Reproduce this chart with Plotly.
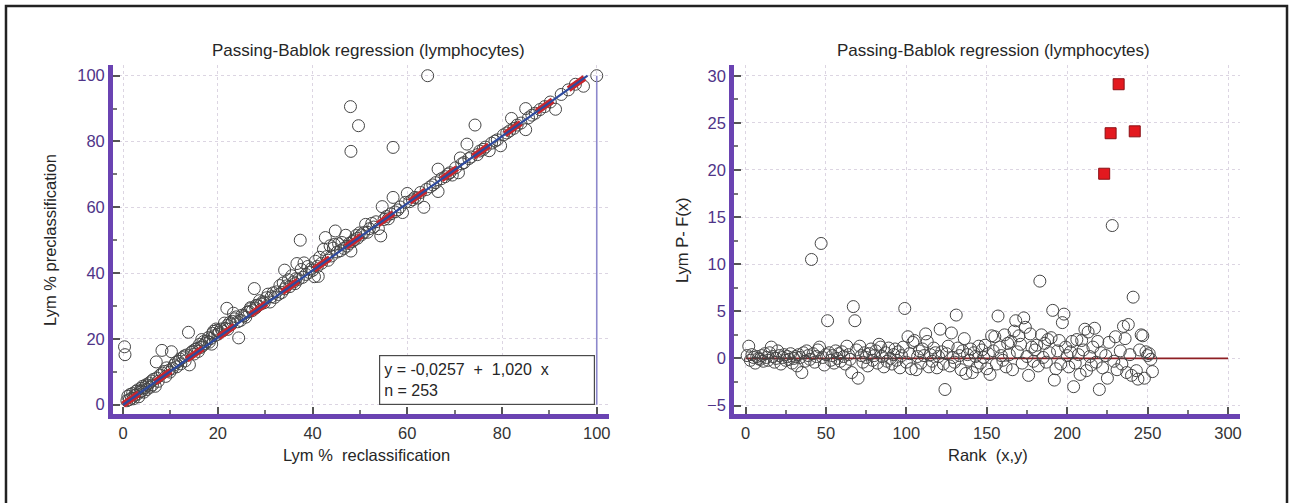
import plotly.graph_objects as go

# ---------------- data: left panel (Lym % reclassification vs preclassification) ----------------
recl_a = [0.3,0.4,0.8,1.0,1.3,1.5,1.8,2.0,2.2,2.5,2.7,3.0,3.1,3.3,3.6,3.8,4.0,4.1,4.4,4.6,
          4.9,5.0,5.2,5.5,5.7,6.0,6.2,6.4,6.8,7.0,7.1,7.4,7.8,8.2,8.3,8.7,9.0,9.2,9.6,9.9]
precl_a = [17.6,15.2,1.2,2.6,1.5,3.1,2.0,3.4,1.8,2.9,4.1,3.2,4.5,2.4,3.9,5.0,4.2,5.6,3.8,5.2,
           6.1,4.6,5.8,6.6,5.3,7.2,6.0,7.7,5.6,13.0,8.1,7.1,9.0,16.5,9.6,10.1,8.6,11.2,10.4,9.9]
recl_b = [10.2,10.4,10.8,11.1,11.3,11.7,12.0,12.2,12.6,12.9,13.1,13.4,13.8,14.0,14.4,14.7,15.0,15.2,15.6,15.9,
          16.1,16.4,16.8,17.0,17.3,17.7,18.0,18.2,18.5,18.9,19.1,19.4,19.8,20.0,20.3,20.7,21.0,21.9,21.6,22.0,
          22.1,22.5,22.8,23.1,23.5,23.9,24.2,24.4,24.8,25.1,25.5,25.9,26.2,26.6,27.0,27.3,27.7,28.0,28.1,28.4,
          28.8,29.1,29.5,29.8,16.6,18.7,19.6,21.4,23.3,26.9]
precl_b = [16.1,11.0,12.1,12.8,11.5,13.2,13.9,12.4,14.3,14.8,13.3,15.1,22.0,12.1,15.9,16.3,15.4,16.8,17.1,16.2,
           18.3,17.4,17.9,19.2,18.6,19.3,20.4,19.0,20.1,21.7,22.3,21.0,22.6,21.4,22.1,23.0,22.4,29.3,23.2,24.1,
           22.9,25.0,24.6,25.3,26.1,26.7,25.2,20.3,25.6,27.2,27.0,26.6,28.1,28.3,29.2,28.6,35.3,29.4,30.2,30.1,
           31.6,30.6,31.3,31.0,19.8,18.4,23.0,24.8,27.8,29.5]
recl_c = [30.3,30.6,31.0,31.3,31.7,32.0,32.4,32.8,33.1,33.5,33.8,34.1,34.5,34.9,35.2,35.6,36.0,36.3,36.7,37.0,
          37.4,37.6,37.9,38.2,38.6,39.0,39.3,39.7,40.0,40.4,40.6,41.0,41.2,41.5,41.9,42.3,42.7,43.0,43.3,43.7,
          44.0,44.4,44.8,45.2,45.5,45.9,46.2,46.6,47.0,47.3,47.7,48.1,48.4,48.8,49.2,49.5,49.9,34.1,36.5,44.6]
precl_c = [32.5,33.6,31.2,32.8,34.0,32.6,34.3,33.5,36.2,34.1,37.0,40.9,36.1,38.0,35.9,39.2,37.3,36.8,42.9,38.1,
           50.0,41.1,38.7,43.1,39.6,42.0,40.2,41.3,40.8,38.9,43.6,42.0,39.0,44.8,43.0,47.2,50.8,45.0,43.9,48.3,
           45.2,47.6,52.8,46.4,48.9,46.8,49.3,47.5,51.5,48.2,49.0,46.7,49.6,50.1,51.4,50.6,52.2,35.2,38.3,48.7]
recl_d = [48.0,49.7,48.1,50.3,50.8,51.2,51.6,52.0,52.5,52.9,53.4,53.9,54.4,54.7,55.1,55.6,56.0,56.5,57.0,57.0,
          57.4,58.0,58.5,59.0,59.6,60.0,60.5,61.1,61.6,62.2,62.8,63.5,64.0,64.3,64.8,65.4,66.0,66.5,66.5,67.2,
          68.0,68.6,69.0,69.5]
precl_d = [90.6,84.8,77.0,51.6,52.3,54.8,52.4,53.5,55.1,54.0,55.6,53.5,51.3,60.2,56.3,57.2,56.5,58.0,63.0,78.2,
           58.6,59.2,60.1,58.4,61.5,64.2,61.7,62.3,63.0,62.8,64.5,60.0,65.4,100.0,66.2,66.8,67.5,71.6,64.8,68.7,
           69.3,70.1,70.5,69.8]
recl_e = [70.2,70.8,71.2,71.5,72.0,72.6,73.0,73.5,74.3,74.8,75.3,76.0,76.5,77.3,77.8,78.5,79.0,79.7,80.3,81.0,
          81.6,82.0,82.5,83.2,84.0,85.0,85.0,85.6,86.3,87.0,88.0,89.0,90.2,91.3,92.5,94.0,95.5,97.2,100.0]
precl_e = [72.0,70.5,75.0,73.2,73.6,79.2,74.8,75.3,85.0,76.0,77.1,77.6,78.3,77.2,79.5,80.1,80.5,78.7,82.0,82.6,
           83.2,87.0,84.0,85.0,85.6,90.0,83.6,87.2,88.0,88.6,89.7,90.6,92.0,89.8,94.3,95.7,97.4,96.8,100.0]

reclassification = recl_a + recl_b + recl_c + recl_d + recl_e
preclassification = precl_a + precl_b + precl_c + precl_d + precl_e

intercept = -0.0257
slope = 1.020
n_points = 253
reg_x_range = [0.0, 98.06]
axis_max = 100

# ---------------- data: right panel (rank vs residual) ----------------
residuals = [
    0.3, 1.3, -0.2, 0.4, 0.1, -0.5, 0.2, 0.0, -0.1, 0.3,
    -0.3, 0.5, 0.1, -0.2, 0.6, 1.2, 0.2, -0.4, 0.0, 0.8,
    0.3, -0.6, 0.1, 0.4, -0.2, 0.2, -0.1, 0.5, -0.5, 0.0,
    0.2, -0.8, 0.4, 0.1, -1.5, 0.6, -0.3, 0.8, 0.3, -0.1,
    10.5, 0.5, -0.4, 0.2, 0.9, 1.2, 12.2, 0.1, -0.7, 0.4,
    4.0, 0.6, -0.2, 0.3, -0.5, 0.8, 0.0, 0.5, -0.3, 0.7,
    0.2, -0.6, 1.3, 0.4, -0.1, -1.5, 5.5, 4.0, 0.9, -2.1,
    1.3, 0.3, -0.4, 0.6, 0.1, -0.8, 0.5, 1.0, -0.2, 0.3,
    0.8, -0.5, 1.5, 1.2, 0.2, -0.9, 0.6, -0.3, 1.1, 0.0,
    -0.6, 0.4, 1.0, -0.2, 0.7, -1.0, 0.3, 1.2, 5.3, -0.4,
    2.3, 0.5, -1.1, 1.7, 1.9, -1.2, 0.2, 0.8, -0.5, 1.0,
    0.3, 2.6, 1.8, -0.9, 0.4, -0.3, 1.1, 0.6, -1.0, 0.2,
    3.1, 0.7, -0.6, -3.3, 0.5, 1.3, -0.8, 2.7, 0.1, -0.4,
    4.6, 1.1, 0.3, -1.2, 0.8, 2.1, -1.6, 0.4, -0.2, 1.0,
    -1.5, 0.6, 0.2, -0.9, 1.3, -0.5, 0.9, 0.1, 1.4, -1.1,
    0.5, -1.7, 2.4, 0.8, 2.3, -0.6, 4.5, 1.2, 0.3, -0.2,
    2.5, -0.9, 1.6, 0.4, 1.8, -1.2, 2.9, 4.0, 0.7, 2.4,
    1.5, -0.5, 4.3, 3.3, 0.2, -1.8, 2.6, 1.2, -0.3, 0.9,
    1.4, -0.8, 8.2, 2.5, 0.1, 1.6, -0.4, 2.0, 0.6, 2.2,
    5.1, -2.3, -1.1, 0.8, 1.9, -0.6, 3.8, 4.7, 1.2, 0.3,
    -0.9, 0.7, 1.8, -3.0, -0.5, 2.0, 0.4, -1.7, 1.9, 0.9,
    3.1, -1.3, 2.8, 0.2, -0.7, 1.2, 3.2, -0.4, 1.8, -3.3,
    0.6, -1.0, 19.6, 0.3, -2.1, 1.7, 23.9, 14.1, -0.3, 2.3,
    -1.2, 29.1, 0.8, -0.6, 3.4, 2.1, -1.5, 3.6, 0.4, -1.8,
    6.5, 24.1, -1.3, -2.2, 0.9, 2.5, 2.4, -2.1, 0.7, 0.3,
    0.5, -0.1, -1.4,
]
ranks = list(range(1, len(residuals) + 1))
outlier_ranks = [223, 227, 232, 242]
rank_axis_max = 300

# ---------------- styling ----------------
FONT = "Liberation Sans, Arial, Helvetica, sans-serif"
AXIS_PURPLE = "#6a43b2"
TICK_PURPLE = "#4f3488"
TEXT = "#262626"
GRID = "#dcd5e2"

W, H = 1296, 503

def px_x(p):
    return p / W

def px_y(p):
    return (H - p) / H

fig = go.Figure()

# left panel circles
fig.add_trace(go.Scatter(
    x=reclassification, y=preclassification, mode="markers",
    marker=dict(symbol="circle-open", size=12, color="#454545", line=dict(width=1)),
    xaxis="x", yaxis="y", showlegend=False, cliponaxis=False))

# regression line (red dashed + blue solid)
reg_y = [intercept + slope * v for v in reg_x_range]
fig.add_trace(go.Scatter(x=reg_x_range, y=reg_y, mode="lines",
                         line=dict(color="#c8262c", width=6.5, dash="dash"),
                         xaxis="x", yaxis="y", showlegend=False))
fig.add_trace(go.Scatter(x=reg_x_range, y=reg_y, mode="lines",
                         line=dict(color="#2e4a9e", width=2.2),
                         xaxis="x", yaxis="y", showlegend=False))
# vertical line at the axis maximum
fig.add_trace(go.Scatter(x=[axis_max, axis_max], y=[0, axis_max], mode="lines",
                         line=dict(color="#8c88cc", width=1.6),
                         xaxis="x", yaxis="y", showlegend=False))

# right panel
norm_r = [r for r in ranks if r not in outlier_ranks]
norm_v = [v for r, v in zip(ranks, residuals) if r not in outlier_ranks]
out_r = [r for r in ranks if r in outlier_ranks]
out_v = [v for r, v in zip(ranks, residuals) if r in outlier_ranks]

fig.add_trace(go.Scatter(x=[0, rank_axis_max], y=[0, 0], mode="lines",
                         line=dict(color="#8e1f24", width=1.6),
                         xaxis="x2", yaxis="y2", showlegend=False))
fig.add_trace(go.Scatter(
    x=norm_r, y=norm_v, mode="markers",
    marker=dict(symbol="circle-open", size=12, color="#454545", line=dict(width=1)),
    xaxis="x2", yaxis="y2", showlegend=False))
fig.add_trace(go.Scatter(
    x=out_r, y=out_v, mode="markers",
    marker=dict(symbol="square", size=11, color="#e3191f", line=dict(color="#8a1015", width=1)),
    xaxis="x2", yaxis="y2", showlegend=False))

common_axis = dict(
    showline=True, linecolor=AXIS_PURPLE, linewidth=4.5, mirror=False,
    showgrid=True, gridcolor=GRID, griddash="dot", gridwidth=1,
    zeroline=False, ticks="inside", ticklen=7, tickwidth=1.5, tickcolor="#555555",
    fixedrange=True,
)

fig.update_layout(
    width=W, height=H, autosize=False,
    margin=dict(l=0, r=0, t=0, b=0),
    paper_bgcolor="white", plot_bgcolor="white",
    font=dict(family=FONT, size=16, color=TEXT),
    xaxis=dict(domain=[px_x(113), px_x(610)], range=[-2.17, 102.6], tickvals=[0, 20, 40, 60, 80, 100],
               tickfont=dict(size=16.5, color="#333333"), anchor="y",
               minor=dict(ticks="inside", ticklen=4, tickcolor="#777777", dtick=10, showgrid=False),
               **common_axis),
    yaxis=dict(domain=[px_y(414), px_y(65)], range=[-2.83, 103.25], tickvals=[0, 20, 40, 60, 80, 100],
               tickfont=dict(size=16.5, color=TICK_PURPLE), anchor="x", ticklabelstandoff=0,
               minor=dict(ticks="inside", ticklen=4, tickcolor="#777777", dtick=10, showgrid=False),
               **common_axis),
    xaxis2=dict(domain=[px_x(735), px_x(1242)], range=[-7.26, 307.5], tickvals=[0, 50, 100, 150, 200, 250, 300],
                tickfont=dict(size=16.5, color="#333333"), anchor="y2",
                minor=dict(ticks="inside", ticklen=4, tickcolor="#777777", dtick=25, showgrid=False),
                **common_axis),
    yaxis2=dict(domain=[px_y(414), px_y(65)], range=[-5.9, 31.14], tickvals=[-5, 0, 5, 10, 15, 20, 25, 30],
                tickfont=dict(size=16.5, color=TICK_PURPLE), anchor="x2", ticklabelstandoff=0,
                minor=dict(ticks="inside", ticklen=4, tickcolor="#777777", dtick=2.5, showgrid=False),
                **common_axis),
)

ann = []
title_txt = "Passing-Bablok regression (lymphocytes)"
ann.append(dict(text=title_txt, xref="paper", yref="paper", x=px_x(369), y=px_y(50),
                xanchor="center", yanchor="middle", showarrow=False, font=dict(size=17, color=TEXT)))
ann.append(dict(text=title_txt, xref="paper", yref="paper", x=px_x(995), y=px_y(50),
                xanchor="center", yanchor="middle", showarrow=False, font=dict(size=17, color=TEXT)))
ann.append(dict(text="Lym %  reclassification", xref="paper", yref="paper", x=px_x(367), y=px_y(455),
                xanchor="center", yanchor="middle", showarrow=False, font=dict(size=16.5, color=TEXT)))
ann.append(dict(text="Rank  (x,y)", xref="paper", yref="paper", x=px_x(990), y=px_y(455),
                xanchor="center", yanchor="middle", showarrow=False, font=dict(size=16.5, color=TEXT)))
ann.append(dict(text="Lym % preclassification", xref="paper", yref="paper", x=px_x(50), y=px_y(240),
                xanchor="center", yanchor="middle", textangle=-90, showarrow=False,
                font=dict(size=16.5, color=TEXT)))
ann.append(dict(text="Lym P- F(x)", xref="paper", yref="paper", x=px_x(683), y=px_y(240),
                xanchor="center", yanchor="middle", textangle=-90, showarrow=False,
                font=dict(size=16.5, color=TEXT)))
# equation box
ann.append(dict(text=f"y = {intercept:.4f}".replace(".", ",") + "  +  " + f"{slope:.3f}".replace(".", ",") + "  x"
                     + f"<br>n = {n_points}",
                xref="paper", yref="paper", x=px_x(380), y=px_y(355),
                xanchor="left", yanchor="top", align="left", valign="middle",
                width=206, height=40, borderpad=4, bordercolor="#4a4a4a", borderwidth=1.2,
                bgcolor="white", showarrow=False, font=dict(size=16, color=TEXT)))
fig.update_layout(annotations=ann)

# outer frame
fig.add_shape(type="rect", xref="paper", yref="paper",
              x0=px_x(6), x1=px_x(1289), y0=-0.2, y1=px_y(6),
              line=dict(color="#222222", width=2.5), fillcolor="rgba(0,0,0,0)", layer="above")

# remove the default 8px page margin so the figure fills the window exactly
fig.write_html("out.html", config={"displayModeBar": False},
               post_script="document.body.style.margin='0px';document.body.style.overflow='hidden';")
